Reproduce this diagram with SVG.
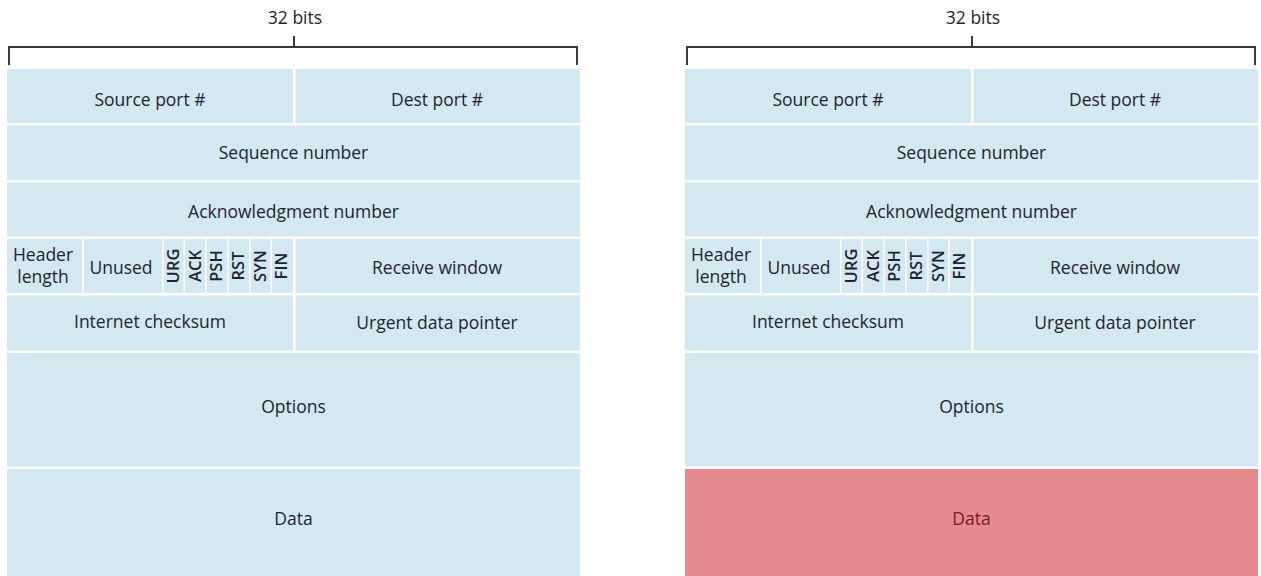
<svg xmlns="http://www.w3.org/2000/svg" width="1261" height="576" viewBox="0 0 1261 576">
  <style>
    .cell { fill: #d4e8f1; }
    .data-red { fill: #e58a8f; }
    .lbl { font-family: "Open Sans", "Noto Sans", sans-serif; font-size: 17.5px; fill: #1c2630; text-anchor: middle; }
    .lbl-red { fill: #7a1c26; }
    .flag { font-family: "Open Sans", "Noto Sans", sans-serif; font-size: 16.5px; font-weight: 600; fill: #1c2630; text-anchor: middle; }
    .bracket { fill: none; stroke: #3a3a3a; stroke-width: 2; }
  </style>
  <defs>
    <!-- One TCP segment layout, reused for both panels -->
    <g id="segment-header">
      <g id="row-ports">
        <rect class="cell" x="7" y="69" width="286" height="54"/>
        <rect class="cell" x="295.5" y="69" width="284.5" height="54"/>
        <text class="lbl" x="150" y="106">Source port #</text>
        <text class="lbl" x="437" y="106">Dest port #</text>
      </g>
      <g id="row-seq">
        <rect class="cell" x="7" y="125.5" width="573" height="54.5"/>
        <text class="lbl" x="293.5" y="159">Sequence number</text>
      </g>
      <g id="row-ack">
        <rect class="cell" x="7" y="182.5" width="573" height="54"/>
        <text class="lbl" x="293.5" y="218">Acknowledgment number</text>
      </g>
      <g id="row-flags">
        <rect class="cell" x="7" y="239" width="75" height="54"/>
        <rect class="cell" x="84" y="239" width="78" height="54"/>
        <rect class="cell" x="163.5" y="239" width="20" height="54"/>
        <rect class="cell" x="185" y="239" width="20" height="54"/>
        <rect class="cell" x="206.5" y="239" width="20.5" height="54"/>
        <rect class="cell" x="228.5" y="239" width="20.5" height="54"/>
        <rect class="cell" x="250.5" y="239" width="20" height="54"/>
        <rect class="cell" x="272" y="239" width="21" height="54"/>
        <rect class="cell" x="295.5" y="239" width="284.5" height="54"/>
        <text class="lbl" x="43" y="261">Header</text>
        <text class="lbl" x="43" y="283">length</text>
        <text class="lbl" x="121" y="274">Unused</text>
        <text class="flag" transform="translate(179 266) rotate(-90)">URG</text>
        <text class="flag" transform="translate(200.5 266) rotate(-90)">ACK</text>
        <text class="flag" transform="translate(222 266) rotate(-90)">PSH</text>
        <text class="flag" transform="translate(244 266) rotate(-90)">RST</text>
        <text class="flag" transform="translate(265.5 266) rotate(-90)">SYN</text>
        <text class="flag" transform="translate(287 266) rotate(-90)">FIN</text>
        <text class="lbl" x="437" y="274">Receive window</text>
      </g>
      <g id="row-checksum">
        <rect class="cell" x="7" y="295.5" width="286" height="55"/>
        <rect class="cell" x="295.5" y="295.5" width="284.5" height="55"/>
        <text class="lbl" x="150" y="328">Internet checksum</text>
        <text class="lbl" x="437" y="329">Urgent data pointer</text>
      </g>
      <g id="row-options">
        <rect class="cell" x="7" y="353" width="573" height="113.5"/>
        <text class="lbl" x="293.5" y="413">Options</text>
      </g>
    </g>
    <!-- 32-bit width bracket above the segment -->
    <g id="bits-bracket">
      <path class="bracket" d="M9 65 V47 H577 V65 M294 36 V47"/>
      <text class="lbl" x="295" y="24">32 bits</text>
    </g>
  </defs>

  <rect x="0" y="0" width="1261" height="576" fill="#ffffff"/>

  <!-- Left: ordinary TCP segment -->
  <g id="segment-left">
    <use href="#bits-bracket"/>
    <use href="#segment-header"/>
    <g id="data-left">
      <rect class="cell" x="7" y="469" width="573" height="107"/>
      <text class="lbl" x="293.5" y="525">Data</text>
    </g>
  </g>

  <!-- Right: same segment, data field highlighted -->
  <g id="segment-right" transform="translate(678 0)">
    <use href="#bits-bracket"/>
    <use href="#segment-header"/>
    <g id="data-right">
      <rect class="data-red" x="7" y="469" width="573" height="107"/>
      <text class="lbl lbl-red" x="293.5" y="525">Data</text>
    </g>
  </g>
</svg>
